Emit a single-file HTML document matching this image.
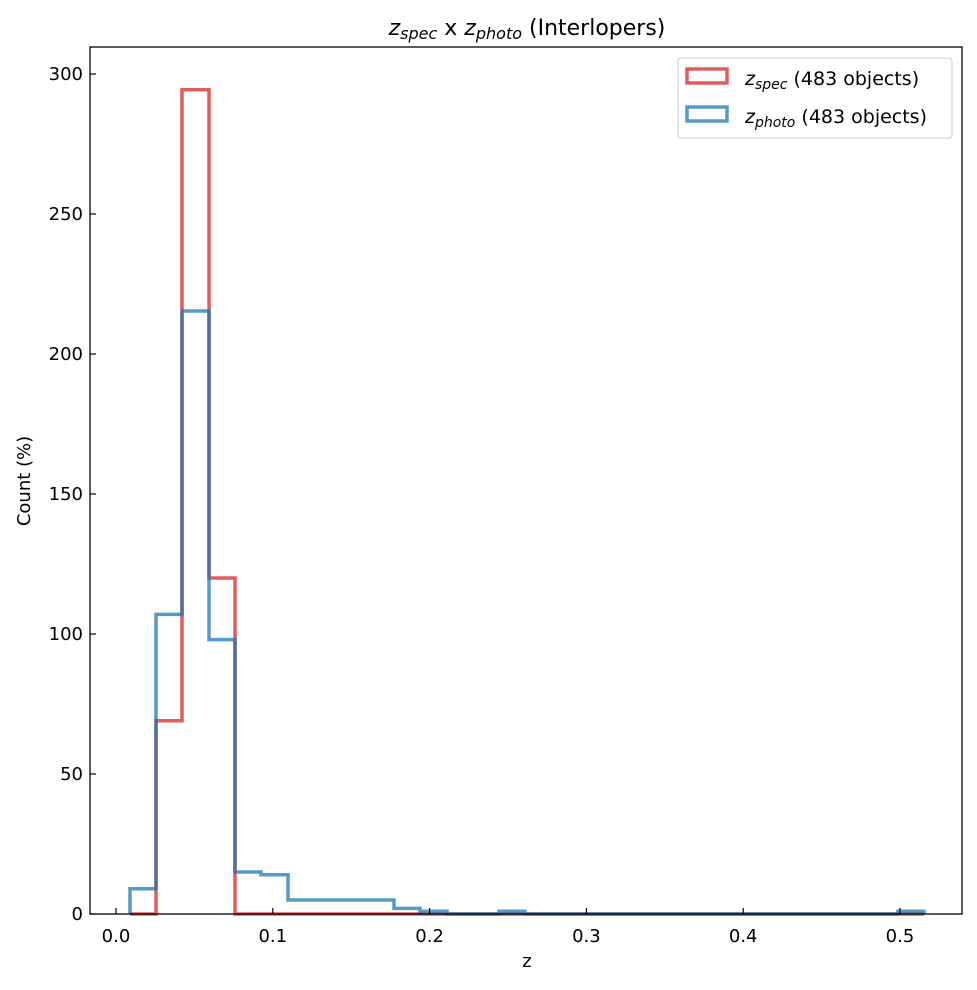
<!DOCTYPE html>
<html><head><meta charset="utf-8"><style>body{margin:0;background:#fff}</style></head><body>
<svg width="977" height="985" xmlns="http://www.w3.org/2000/svg" font-family="'DejaVu Sans', sans-serif">
<rect width="977" height="985" fill="#fff"/>
<polyline fill="none" stroke="#d62728" stroke-opacity="0.75" stroke-width="3.5" points="130,914 156,914 156,720.8 182,720.8 182,89.8 209,89.8 209,578 235,578 235,914 924,914"/>
<polyline fill="none" stroke="#1f77b4" stroke-opacity="0.75" stroke-width="3.5" points="130,914 130,888.8 156,888.8 156,614.4 182,614.4 182,311 209,311 209,639.6 235,639.6 235,872 261,872 261,874.8 288,874.8 288,900 394,900 394,908.4 420,908.4 420,911.2 447,911.2 447,914 499,914 499,911.2 525,911.2 525,914 898,914 898,911.2 924,911.2 924,914"/>
<rect x="90" y="47" width="872" height="867" fill="none" stroke="#000" stroke-width="1.3"/>
<g stroke="#000" stroke-width="1.2">
<line x1="116" y1="914" x2="116" y2="908"/><line x1="272.8" y1="914" x2="272.8" y2="908"/><line x1="429.6" y1="914" x2="429.6" y2="908"/><line x1="586.4" y1="914" x2="586.4" y2="908"/><line x1="743.2" y1="914" x2="743.2" y2="908"/><line x1="900" y1="914" x2="900" y2="908"/>
<line x1="90" y1="914" x2="96" y2="914"/><line x1="90" y1="774" x2="96" y2="774"/><line x1="90" y1="634" x2="96" y2="634"/><line x1="90" y1="494" x2="96" y2="494"/><line x1="90" y1="354" x2="96" y2="354"/><line x1="90" y1="214" x2="96" y2="214"/><line x1="90" y1="74" x2="96" y2="74"/>
</g>
<g font-size="18" text-anchor="middle">
<text x="116" y="942">0.0</text><text x="272.8" y="942">0.1</text><text x="429.6" y="942">0.2</text><text x="586.4" y="942">0.3</text><text x="743.2" y="942">0.4</text><text x="900" y="942">0.5</text>
<text x="527" y="967">z</text>
</g>
<g font-size="18" text-anchor="end">
<text x="83" y="920">0</text><text x="83" y="780">50</text><text x="83" y="640">100</text><text x="83" y="500">150</text><text x="83" y="360">200</text><text x="83" y="220">250</text><text x="83" y="80">300</text>
</g>
<text transform="translate(30,481) rotate(-90)" font-size="18" text-anchor="middle">Count (%)</text>
<text x="527" y="35" font-size="22" text-anchor="middle"><tspan font-style="italic">z</tspan><tspan font-style="italic" font-size="16" dy="4">spec</tspan><tspan dy="-4"> x </tspan><tspan font-style="italic">z</tspan><tspan font-style="italic" font-size="16" dy="4">photo</tspan><tspan dy="-4"> (Interlopers)</tspan></text>
<rect x="678" y="58" width="274" height="80" rx="3" fill="#fff" stroke="#ccc" stroke-width="1"/>
<rect x="687" y="69" width="40" height="14" fill="none" stroke="#d62728" stroke-opacity="0.75" stroke-width="3.5"/>
<rect x="687" y="107" width="40" height="14" fill="none" stroke="#1f77b4" stroke-opacity="0.75" stroke-width="3.5"/>
<g font-size="19">
<text x="745" y="85"><tspan font-style="italic">z</tspan><tspan font-style="italic" font-size="14" dy="4">spec</tspan><tspan dy="-4"> (483 objects)</tspan></text>
<text x="745" y="123"><tspan font-style="italic">z</tspan><tspan font-style="italic" font-size="14" dy="4">photo</tspan><tspan dy="-4"> (483 objects)</tspan></text>
</g>
</svg>
</body></html>
